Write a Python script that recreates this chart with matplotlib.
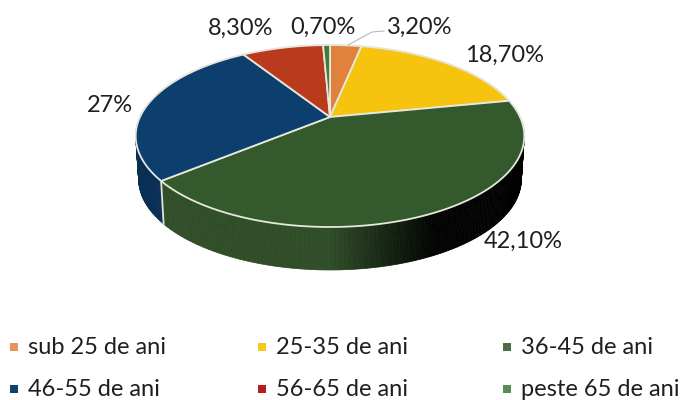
import numpy as np
import matplotlib
matplotlib.use('Agg')
import matplotlib.pyplot as plt

plt.rcParams['font.family'] = ['Lato', 'DejaVu Sans']

# Data
categories = ['sub 25 de ani', '25-35 de ani', '36-45 de ani',
              '46-55 de ani', '56-65 de ani', 'peste 65 de ani']
values = [3.2, 18.7, 42.1, 27, 8.3, 0.7]
value_labels = ['3,20%', '18,70%', '42,10%', '27%', '8,30%', '0,70%']
colors = ['#E0823E', '#F6C40F', '#33592C', '#0C3E6E', '#B93A1C', '#3F7B3A']
wall_colors = ['#A85E2A', '#B08C0A', '#2F4D27', '#0A2F55', '#80281A', '#2A5528']
legend_colors = ['#E8935A', '#F6C81E', '#4A6E42', '#14406F', '#B5201E', '#5A8A55']

# pie geometry (pixels)
apex_x, apex_y = 330, 117
rx, ry = 190, 87
persp = 0.209
depth = 43
bottom_scale = 0.985


def rim(frac):
    # frac goes clockwise from the top of the pie
    t = 2 * np.pi * np.asarray(frac)
    x, y = np.sin(t), np.cos(t)
    w = 1 + persp * y
    return apex_x + rx * x / w, apex_y - ry * y / w


fig = plt.figure(figsize=(6.83, 4), dpi=100)
ax = fig.add_axes([0, 0, 1, 1])
ax.set_xlim(0, 683)
ax.set_ylim(400, 0)
ax.axis('off')

edges = np.cumsum([0] + values) / sum(values)

# side wall first, the top covers the back part of it
for i in range(len(values)):
    steps = np.linspace(edges[i], edges[i + 1], max(3, int(values[i] * 6)))
    px, py = rim(steps)
    base = np.array(matplotlib.colors.to_rgb(wall_colors[i]))
    for k in range(len(steps) - 1):
        shade = np.clip((440 - px[k]) / 110, 0.03, 1)
        qx = [px[k], px[k + 1],
              apex_x + (px[k + 1] - apex_x) * bottom_scale,
              apex_x + (px[k] - apex_x) * bottom_scale]
        qy = [py[k], py[k + 1], py[k + 1] + depth, py[k] + depth]
        ax.fill(qx, qy, color=base * shade, lw=0.5, zorder=1)

# white seam on the front wall
sx, sy = rim(edges[3])
ax.plot([sx, apex_x + (sx - apex_x) * bottom_scale], [sy, sy + depth],
        color='#DDE3D8', lw=1.3, zorder=2)

# top surface
for i in range(len(values)):
    steps = np.linspace(edges[i], edges[i + 1], max(3, int(values[i] * 6)))
    px, py = rim(steps)
    ax.fill(np.r_[apex_x, px], np.r_[apex_y, py], facecolor=colors[i],
            edgecolor='#E6E8DC', lw=1.3, joinstyle='round', zorder=3)

# data labels
label_x = [387, 465, 484, 87, 208, 290]
label_y = [27, 55, 241, 106, 28, 27]
for lab, lx, ly in zip(value_labels, label_x, label_y):
    ax.text(lx, ly, lab, fontsize=17, color='#1F1F1F', ha='left', va='center', zorder=5)

# leader line for the orange slice
ax.plot([384, 372, 348], [31, 32, 45], color='#B8B8B8', lw=0.8, zorder=4)

# legend
legend_x = [14, 262, 507]
legend_y = [347, 389]
for i, cat in enumerate(categories):
    lx = legend_x[i % 3]
    ly = legend_y[i // 3]
    ax.scatter([lx], [ly], marker='s', s=30, color=legend_colors[i], lw=0, zorder=5)
    ax.text(lx + 14, ly + 1, cat, fontsize=17, color='#1F1F1F', ha='left', va='center', zorder=5)

fig.savefig('out.png', dpi=100)
